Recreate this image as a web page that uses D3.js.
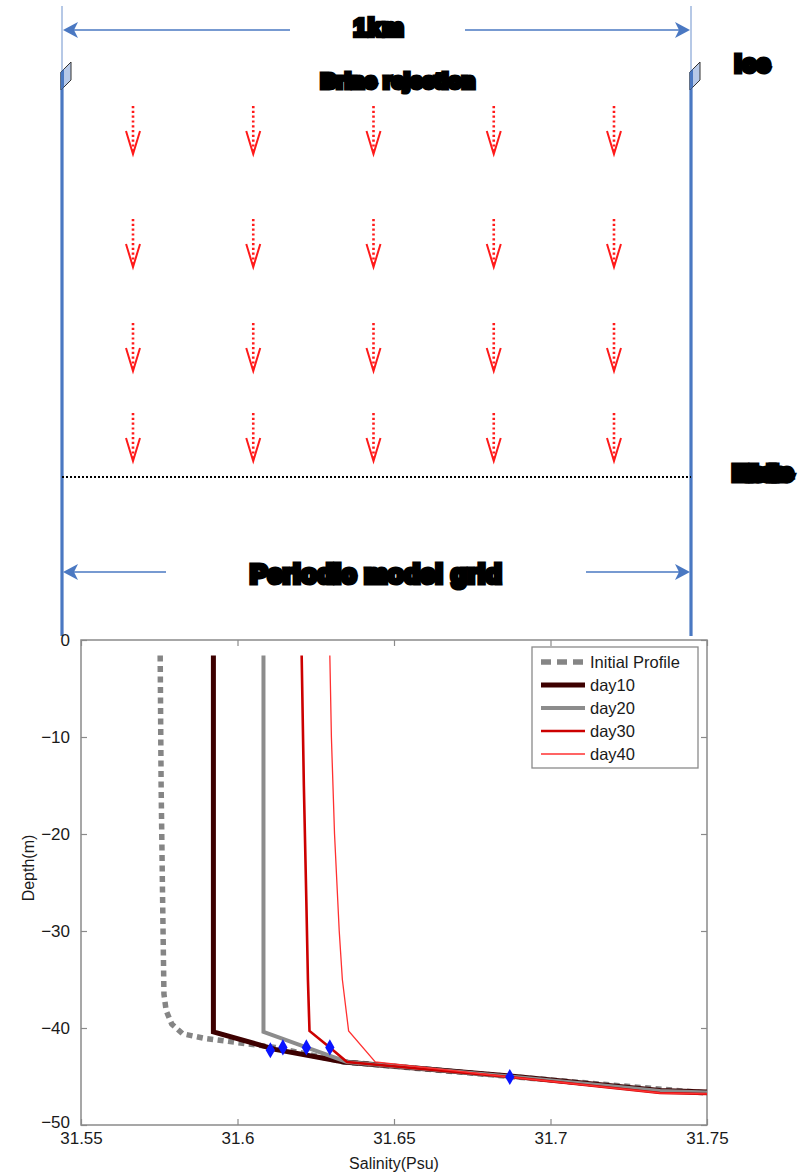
<!DOCTYPE html>
<html>
<head>
<meta charset="utf-8">
<script src="https://cdn.jsdelivr.net/npm/d3@7"></script>
<style>
  html, body { margin: 0; padding: 0; background: #fff; }
  svg { display: block; }
  text { font-family: "Liberation Sans", Arial, sans-serif; }
</style>
</head>
<body>
<svg id="fig" width="810" height="1173"></svg>
<script>
// ---- profile data: [salinity (psu), depth (m)] ----
const initialProfile = [
  [31.5753, -1.6], [31.5756, -15], [31.5760, -25], [31.5765, -36.5],
  [31.5772, -38.2], [31.5790, -39.6], [31.5825, -40.6], [31.5900, -41.1],
  [31.6000, -41.5], [31.6120, -42.0], [31.6340, -43.5], [31.6870, -45.0],
  [31.7500, -46.7]
];
const day10 = [
  [31.5923, -1.6], [31.5923, -40.4], [31.6120, -42.2], [31.6340, -43.5],
  [31.6870, -44.95], [31.7350, -46.45], [31.7500, -46.6]
];
const day20 = [
  [31.6083, -1.6], [31.6083, -40.4], [31.6220, -42.0], [31.6350, -43.5],
  [31.6870, -45.0], [31.7350, -46.5], [31.7500, -46.65]
];
const day30 = [
  [31.6205, -1.6], [31.6212, -15], [31.6220, -27], [31.6225, -35],
  [31.6230, -40.3], [31.6295, -42.0], [31.6350, -43.5], [31.6870, -45.05],
  [31.7350, -46.7], [31.7500, -46.8]
];
const day40 = [
  [31.6295, -1.6], [31.6300, -10], [31.6310, -20], [31.6325, -30],
  [31.6335, -35], [31.6355, -40.3], [31.6440, -43.5], [31.6870, -45.05],
  [31.7350, -46.7], [31.7500, -46.8]
];
// mixed-layer base markers
const mldPoints = [
  [31.6105, -42.3], [31.6145, -42.0], [31.6220, -42.0], [31.6295, -42.0], [31.6870, -45.05]
];

const seriesNames = ["Initial Profile", "day10", "day20", "day30", "day40"];
const xTicks = [31.55, 31.6, 31.65, 31.7, 31.75];
const xTickLabels = ["31.55", "31.6", "31.65", "31.7", "31.75"];
const yTicks = [0, -10, -20, -30, -40, -50];
const yTickLabels = ["0", "\u221210", "\u221220", "\u221230", "\u221240", "\u221250"];

// schematic labels
const topLabel = "1km";
const brineLabel = "Brine rejection";
const iceLabel = "Ice";
const baseLabel = "Halocline";
const gridLabel = "Periodic model grid";

const svg = d3.select("#fig");
const blue = "#4a78c2";

// ================= schematic =================
const sch = svg.append("g");
const leftX = 62, rightX = 691;

// side walls: thin above the ice, thick below
[leftX, rightX].forEach(x => {
  sch.append("line").attr("x1", x).attr("x2", x).attr("y1", 6).attr("y2", 72)
    .attr("stroke", blue).attr("stroke-width", 1).attr("opacity", 0.8);
  sch.append("line").attr("x1", x).attr("x2", x).attr("y1", 72).attr("y2", 636)
    .attr("stroke", blue).attr("stroke-width", 3.2);
  // ice slab
  sch.append("path")
    .attr("d", `M${x - 1},72 L${x + 9},62 L${x + 9},80 L${x - 1},90 Z`)
    .attr("fill", "#b7c9e8").attr("stroke", "#333").attr("stroke-width", 1);
  sch.append("path")
    .attr("d", `M${x - 1},72 L${x + 2},69 L${x + 2},87 L${x - 1},90 Z`)
    .attr("fill", blue);
});

// double arrows
function hArrow(y, x1, x2, gapL, gapR) {
  sch.append("line").attr("x1", x1 + 12).attr("x2", gapL).attr("y1", y).attr("y2", y)
    .attr("stroke", blue).attr("stroke-width", 1.3);
  sch.append("line").attr("x1", gapR).attr("x2", x2 - 12).attr("y1", y).attr("y2", y)
    .attr("stroke", blue).attr("stroke-width", 1.3);
  sch.append("path").attr("d", `M${x1 + 1},${y} L${x1 + 16},${y - 8} L${x1 + 12},${y} L${x1 + 16},${y + 8} Z`)
    .attr("fill", blue);
  sch.append("path").attr("d", `M${x2 - 1},${y} L${x2 - 16},${y - 8} L${x2 - 12},${y} L${x2 - 16},${y + 8} Z`)
    .attr("fill", blue);
}
hArrow(30, leftX, rightX, 290, 465);
hArrow(572, leftX, rightX, 166, 586);

// heavy labels
function heavyText(x, y, txt, size, sw, ls) {
  sch.append("text").attr("x", x).attr("y", y).text(txt)
    .attr("text-anchor", "middle").attr("dominant-baseline", "central")
    .attr("font-size", size).attr("font-weight", 900)
    .attr("letter-spacing", ls || 0)
    .attr("fill", "#000").attr("stroke", "#000").attr("stroke-width", sw)
    .attr("stroke-linejoin", "miter");
}
heavyText(379, 27, topLabel, 24, 4.5, 1);
heavyText(398, 80, brineLabel, 21, 5, 0.5);
heavyText(753, 63, iceLabel, 24, 5, 1);
heavyText(762, 473, baseLabel, 16, 9, -1.8);
heavyText(376, 574, gridLabel, 26, 5, 0.5);

// dotted base line
sch.append("line").attr("x1", leftX).attr("x2", rightX).attr("y1", 477).attr("y2", 477)
  .attr("stroke", "#000").attr("stroke-width", 2).attr("stroke-dasharray", "2,2");

// brine arrows
const colScale = d3.scalePoint().domain(d3.range(5)).range([133, 614]);
const rowTops = [106, 219, 323, 413];
rowTops.forEach(top => {
  colScale.domain().forEach(c => {
    const x = colScale(c);
    const g = sch.append("g").attr("stroke", "#ff1a1a").attr("fill", "none");
    g.append("line").attr("x1", x).attr("x2", x).attr("y1", top).attr("y2", top + 45)
      .attr("stroke-width", 2.6).attr("stroke-dasharray", "2.2,2.6");
    g.append("path")
      .attr("d", `M${x - 7},${top + 25} L${x},${top + 48} L${x + 7},${top + 25}`)
      .attr("stroke-width", 2);
  });
});

// ================= profile chart =================
const m = { left: 81, right: 707, top: 640, bottom: 1125 };
const x = d3.scaleLinear().domain([31.55, 31.75]).range([m.left, m.right]);
const y = d3.scaleLinear().domain([-50, 0]).range([m.bottom, m.top]);
const axisColor = "#8a8a8a";
const plot = svg.append("g");

plot.append("rect").attr("x", m.left).attr("y", m.top)
  .attr("width", m.right - m.left).attr("height", m.bottom - m.top)
  .attr("fill", "#fff").attr("stroke", axisColor).attr("stroke-width", 1.5);

// inward ticks on all four sides
const xBottom = d3.axisBottom(x).tickValues(xTicks).tickSize(-6).tickFormat((d, i) => xTickLabels[i]).tickPadding(10);
const xTop = d3.axisTop(x).tickValues(xTicks).tickSize(-6).tickFormat("");
const yLeft = d3.axisLeft(y).tickValues(yTicks).tickSize(-6).tickFormat((d, i) => yTickLabels[i]).tickPadding(11);
const yRight = d3.axisRight(y).tickValues(yTicks).tickSize(-6).tickFormat("");

function styleAxis(g) {
  g.select(".domain").remove();
  g.selectAll(".tick line").attr("stroke", axisColor).attr("stroke-width", 1.2);
  g.selectAll(".tick text").attr("fill", "#1a1a1a").attr("font-size", 17)
    .attr("font-family", "Liberation Sans, Arial, sans-serif");
}
plot.append("g").attr("transform", `translate(0,${m.bottom})`).call(xBottom).call(styleAxis)
  .selectAll(".tick text").attr("dy", "0.5em");
plot.append("g").attr("transform", `translate(0,${m.top})`).call(xTop).call(styleAxis);
plot.append("g").attr("transform", `translate(${m.left},0)`).call(yLeft).call(styleAxis)
  .selectAll(".tick text").attr("dy", (d) => d === -50 ? "0.15em" : "0.32em");
plot.append("g").attr("transform", `translate(${m.right},0)`).call(yRight).call(styleAxis);

plot.append("text").attr("x", 394).attr("y", 1163).attr("text-anchor", "middle")
  .attr("dominant-baseline", "central").attr("font-size", 16).attr("fill", "#1a1a1a")
  .text("Salinity(Psu)");
plot.append("text").attr("transform", "translate(28,868) rotate(-90)").attr("text-anchor", "middle")
  .attr("dominant-baseline", "central").attr("font-size", 16).attr("fill", "#1a1a1a")
  .text("Depth(m)");

const line = d3.line().x(d => x(d[0])).y(d => y(d[1]));
const styles = [
  { data: initialProfile, color: "#858585", width: 5.5, dash: "6,4.5", legDash: "10,6" },
  { data: day10, color: "#3d0000", width: 5, dash: null },
  { data: day20, color: "#8c8c8c", width: 4, dash: null },
  { data: day30, color: "#cc0000", width: 2.6, dash: null },
  { data: day40, color: "#ff3030", width: 1.3, dash: null }
];

const clip = svg.append("clipPath").attr("id", "plotClip").append("rect")
  .attr("x", m.left).attr("y", m.top).attr("width", m.right - m.left).attr("height", m.bottom - m.top);
const lines = plot.append("g").attr("clip-path", "url(#plotClip)");

styles.forEach(s => {
  lines.append("path").datum(s.data).attr("d", line)
    .attr("fill", "none").attr("stroke", s.color).attr("stroke-width", s.width)
    .attr("stroke-dasharray", s.dash).attr("stroke-linejoin", "miter");
});

// markers
const diamond = d3.symbol().type(d3.symbolDiamond).size(75);
lines.selectAll(".mk").data(mldPoints).enter().append("path")
  .attr("transform", d => `translate(${x(d[0])},${y(d[1])})`)
  .attr("d", diamond).attr("fill", "#0a14ff");

// legend
const leg = plot.append("g");
leg.append("rect").attr("x", 532).attr("y", 647).attr("width", 166).attr("height", 121)
  .attr("fill", "#fff").attr("stroke", axisColor).attr("stroke-width", 1.3);
styles.forEach((s, i) => {
  const ly = 662 + i * 23;
  leg.append("line").attr("x1", 541).attr("x2", 585).attr("y1", ly).attr("y2", ly)
    .attr("stroke", s.color).attr("stroke-width", s.width)
    .attr("stroke-dasharray", s.legDash || null);
  leg.append("text").attr("x", 590).attr("y", ly).attr("dominant-baseline", "central")
    .attr("font-size", 16.5).attr("fill", "#1a1a1a").text(seriesNames[i]);
});
</script>
</body>
</html>
